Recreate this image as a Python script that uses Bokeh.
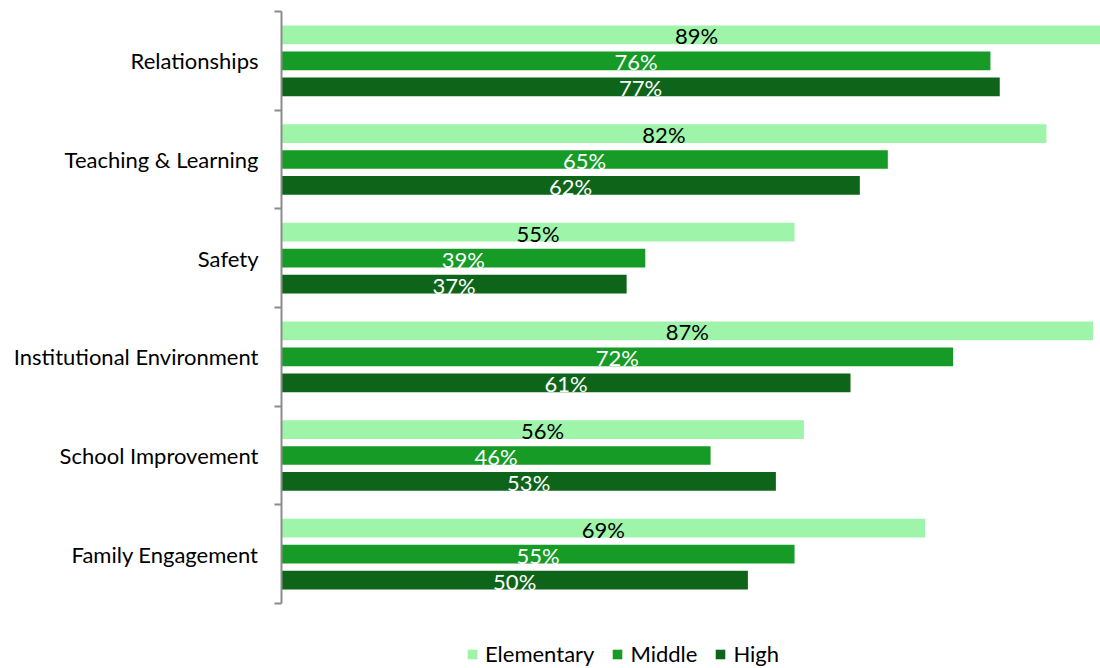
from bokeh.plotting import figure
from bokeh.models import ColumnDataSource, FixedTicker, Legend, LegendItem, Range1d, LabelSet
from bokeh.core.properties import value
from bokeh.embed import file_html
from bokeh.resources import INLINE

categories = ["Relationships", "Teaching & Learning", "Safety",
              "Institutional Environment", "School Improvement", "Family Engagement"]
elementary = [89, 82, 55, 87, 56, 69]
middle = [76, 65, 39, 72, 46, 55]
high = [77, 62, 37, 61, 53, 50]
series_names = ["Elementary", "Middle", "High"]
colors = ["#9EF4A8", "#159B26", "#0E651A"]
label_colors = ["#000000", "#FFFFFF", "#FFFFFF"]

FONT = "Lato"
n = len(categories)
centers = [n - 0.5 - i for i in range(n)]
offsets = [0.263, 0.0, -0.263]

px_per_unit = 592 / n
extra = 65 / px_per_unit

p = figure(frame_width=819, frame_height=657, output_backend="svg", toolbar_location=None,
           x_range=Range1d(0, 87.8), y_range=Range1d(-extra, n),
           min_border_left=281, min_border_right=0, min_border_top=11, min_border_bottom=0)
p.outline_line_color = None
p.grid.visible = False
p.xaxis.visible = False

items = []
for vals, name, col, lc, off in zip([elementary, middle, high], series_names, colors, label_colors, offsets):
    src = ColumnDataSource(dict(y=[c + off for c in centers], right=vals,
                                mid=[v / 2 for v in vals],
                                lab=[f"{v}%" for v in vals]))
    r = p.hbar(y="y", left=0, right="right", height=0.19, source=src,
               fill_color=col, line_color=None)
    items.append(LegendItem(label=name, renderers=[r]))
    p.add_layout(LabelSet(x="mid", y="y", text="lab", source=src, text_align="center",
                          text_baseline="middle", text_color=lc, text_font=value(FONT),
                          text_font_size="22px", y_offset=-1))

ax = p.yaxis[0]
ax.bounds = (0, n)
ax.ticker = FixedTicker(ticks=centers, minor_ticks=list(range(n + 1)))
ax.major_label_overrides = {c: cat for c, cat in zip(centers, categories)}
ax.major_tick_line_color = None
ax.minor_tick_in = 0
ax.minor_tick_out = 7
ax.minor_tick_line_color = "#8C8C8C"
ax.minor_tick_line_width = 2
ax.axis_line_color = "#8C8C8C"
ax.axis_line_width = 2
ax.major_label_standoff = 16
ax.major_label_text_font = FONT
ax.major_label_text_font_size = "22px"
ax.major_label_text_color = "#000000"

legend = Legend(items=items, orientation="horizontal", location=(185, 1),
                label_text_font=FONT, label_text_font_size="22px", label_text_color="#000000",
                glyph_width=12, glyph_height=12, spacing=17, label_standoff=7,
                border_line_color=None, background_fill_alpha=0, margin=0, padding=0)
p.add_layout(legend, "center")

open("out.html", "w").write(file_html(p, INLINE))
